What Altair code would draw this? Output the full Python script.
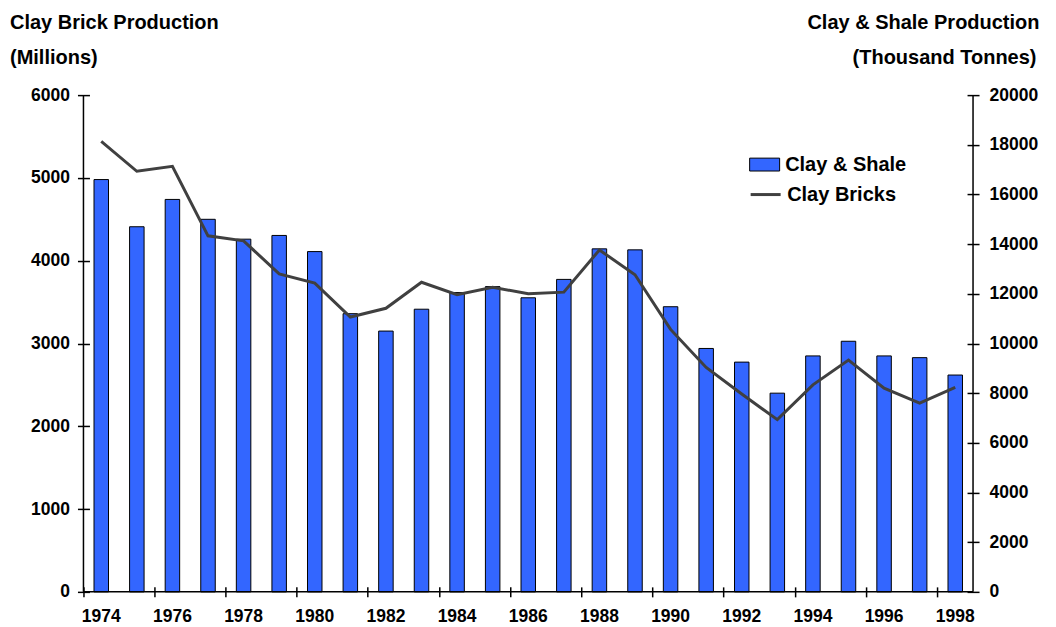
import altair as alt
import pandas as pd

# ---- data ----
years = list(range(1974, 1999))
clay_shale = [16600, 14700, 15800, 15000, 14200, 14350, 13700, 11200, 10500, 11380,
              12050, 12290, 11840, 12580, 13810, 13770, 11480, 9800, 9250, 8000,
              9500, 10090, 9500, 9430, 8730]
clay_bricks = [5440, 5080, 5140, 4300, 4240, 3840, 3730, 3320, 3425, 3740,
               3590, 3680, 3600, 3620, 4130, 3830, 3170, 2710, 2390, 2080,
               2500, 2800, 2460, 2280, 2470]
year_labels = list(range(1974, 1999, 2))
left_ticks = list(range(0, 6001, 1000))
right_ticks = list(range(0, 20001, 2000))

df = pd.DataFrame({"year": years, "shale": clay_shale, "bricks": clay_bricks})

W, H = 890, 497
FONT = "Liberation Sans"
TICK_FS = 17.5
TEXT_FS = 20

x_enc = alt.X(
    "year:O",
    scale=alt.Scale(paddingInner=0, paddingOuter=0),
    axis=alt.Axis(values=year_labels, bandPosition=0, title=None, labelAngle=0,
                  domain=False, offset=-5, tickSize=10, tickWidth=1.5, tickColor="black",
                  labelPadding=11, labelFont=FONT, labelFontSize=TICK_FS,
                  labelFontWeight="bold", labelColor="black", grid=False),
)

bars = (
    alt.Chart(df)
    .transform_calculate(series="'Clay & Shale'")
    .mark_bar(size=14.5, stroke="black", strokeWidth=1)
    .encode(
        x=x_enc,
        y=alt.Y("shale:Q", scale=alt.Scale(domain=[0, 20000], nice=False),
                axis=alt.Axis(orient="right", values=right_ticks, format="d", title=None,
                              grid=False, domain=False, offset=-6, tickSize=12,
                              tickWidth=1.5, tickColor="black", labelPadding=10,
                              labelFont=FONT, labelFontSize=TICK_FS,
                              labelFontWeight="bold", labelColor="black")),
        fill=alt.Fill("series:N",
                      scale=alt.Scale(domain=["Clay & Shale"], range=["#3366ff"]),
                      legend=alt.Legend(title=None, orient="none", legendX=666, legendY=54,
                                        symbolType="M-1,-0.43H1V0.43H-1Z", symbolSize=900,
                                        symbolStrokeColor="black", symbolStrokeWidth=1,
                                        labelFont=FONT, labelFontSize=TEXT_FS,
                                        labelFontWeight="bold", labelColor="black",
                                        labelOffset=5, padding=0)),
    )
)

line = (
    alt.Chart(df)
    .transform_calculate(series="'Clay Bricks'")
    .mark_line(strokeWidth=3)
    .encode(
        x=x_enc,
        y=alt.Y("bricks:Q", scale=alt.Scale(domain=[0, 6000], nice=False),
                axis=alt.Axis(orient="left", values=left_ticks, format="d", title=None,
                              grid=False, domain=False, offset=-6, tickSize=12,
                              tickWidth=1.5, tickColor="black", labelPadding=8,
                              labelFont=FONT, labelFontSize=TICK_FS,
                              labelFontWeight="bold", labelColor="black")),
        stroke=alt.Stroke("series:N",
                          scale=alt.Scale(domain=["Clay Bricks"], range=["#404040"]),
                          legend=alt.Legend(title=None, orient="none", legendX=666, legendY=83,
                                            symbolType="stroke", symbolSize=900,
                                            symbolStrokeWidth=3,
                                            labelFont=FONT, labelFontSize=TEXT_FS,
                                            labelFontWeight="bold", labelColor="black",
                                            labelOffset=5, padding=0)),
    )
)

one = pd.DataFrame({"k": [0]})


def label(text, x, y, align):
    return (
        alt.Chart(one)
        .mark_text(text=text, align=align, baseline="alphabetic", font=FONT,
                   fontSize=TEXT_FS, fontWeight="bold", color="black")
        .encode(x=alt.value(x), y=alt.value(y))
    )


t1 = label("Clay Brick Production", -73.5, -66.5, "left")
t2 = label("(Millions)", -73.5, -31.5, "left")
t3 = label("Clay & Shale Production", 956.5, -66.5, "right")
t4 = label("(Thousand Tonnes)", 953.5, -31.5, "right")

dom = alt.Chart(one).mark_rule(color="black", strokeWidth=1.5)
d_left = dom.encode(x=alt.value(0), y=alt.value(0), y2=alt.value(H))
d_right = dom.encode(x=alt.value(W), y=alt.value(0), y2=alt.value(H))
d_bottom = dom.encode(x=alt.value(0), x2=alt.value(W), y=alt.value(H))

chart = (
    alt.layer(bars, line, d_left, d_right, d_bottom, t1, t2, t3, t4)
    .resolve_scale(y="independent")
    .properties(width=W, height=H, autosize=alt.AutoSizeParams(type="none"),
                padding={"left": 75.5, "top": 87, "right": 75, "bottom": 35})
    .configure_view(strokeWidth=0)
)

chart.save("out.html", embed_options={"renderer": "svg", "actions": False})
